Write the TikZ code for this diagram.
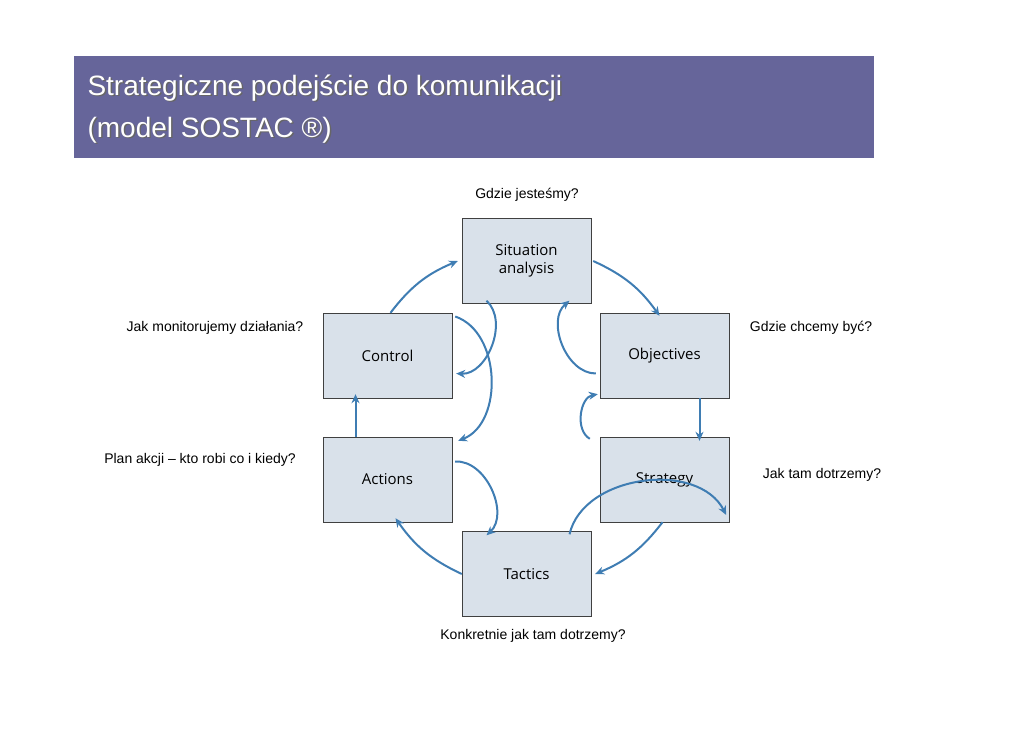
\documentclass[tikz,border=0pt]{standalone}
\usepackage{fontspec}
\setmainfont{Liberation Sans}
\newfontfamily\boxfont{Open Sans}
\usetikzlibrary{arrows.meta}
\definecolor{titlebg}{HTML}{66659A}
\definecolor{boxbg}{HTML}{D9E1EA}
\definecolor{arrowc}{HTML}{3F7DB3}
\begin{document}
\begin{tikzpicture}[x=1pt, y=-1pt,
    stage/.style = {draw=black!75, fill=boxbg, minimum width=129pt, minimum height=85pt, align=center, font=\boxfont\fontsize{15}{18}\selectfont},
    question/.style = {font=\fontsize{14}{16}\selectfont},
    flow/.style = {-{Stealth[length=9pt,width=8pt]}, arrowc, line width=2pt}]
    \useasboundingbox (0,0) rectangle (1030,728);
    % title bar
    \fill[titlebg] (74,56) rectangle (874,158);
    \node[anchor=west, align=left, text=black!60, font=\fontsize{28}{42}\selectfont] at (85.5,110.5) {Strategiczne podejście do komunikacji\\(model SOSTAC ®)};
    \node[anchor=west, align=left, text=white, font=\fontsize{28}{42}\selectfont] (title) at (84,109) {Strategiczne podejście do komunikacji\\(model SOSTAC ®)};

    \node[stage] (sit) at (526.5,261) {Situation\\analysis};
    \node[stage] (ctl) at (387.5,355.5) {Control};
    \node[stage] (obj) at (664.5,355.5) {Objectives};
    \node[stage] (act) at (387.5,479.5) {Actions};
    \node[stage] (str) at (664.5,479.5) {Strategy};
    \node[stage] (tac) at (526.5,574) {Tactics};

    \node[question] (q1) at (527,195) {Gdzie jesteśmy?};
    \node[question] (q2) at (215,328) {Jak monitorujemy działania?};
    \node[question] (q3) at (811,328) {Gdzie chcemy być?};
    \node[question] (q4) at (200,460) {Plan akcji – kto robi co i kiedy?};
    \node[question] (q5) at (822,475) {Jak tam dotrzemy?};
    \node[question] (q6) at (533,636) {Konkretnie jak tam dotrzemy?};

    % outer cycle
    \draw[flow] (ctl.north) ++(3,0) to[bend left=15] ([xshift=-4pt]sit.west);
    \draw[flow] (sit.east) ++(2,0) to[bend left=15] ([xshift=-5pt,yshift=-3pt]obj.north);
    \draw[flow] ([xshift=35pt]obj.south) -- ([xshift=35pt,yshift=-4pt]str.north);
    \draw[flow] ([xshift=-2pt]str.south) to[bend left=15] ([xshift=4pt]tac.east);
    \draw[flow] (tac.west) to[bend left=15] ([xshift=8pt,yshift=4pt]act.south);
    \draw[flow] ([xshift=-32pt]act.north) -- ([xshift=-32pt,yshift=4pt]ctl.south);

    % feedback loops
    \draw[flow] ([xshift=-40pt,yshift=3pt]sit.south) to[bend left=70] ([xshift=4pt,yshift=-18pt]ctl.east);
    \draw[flow] ([xshift=-4pt,yshift=-18pt]obj.west) to[bend left=70] ([xshift=43pt,yshift=3pt]sit.south);
    \draw[flow] ([xshift=3pt,yshift=39pt]ctl.east) to[bend left=70] ([xshift=6pt,yshift=-4pt]act.north east);
    \draw[flow] ([xshift=-10pt,yshift=-2pt]str.north west) to[bend left=70] ([xshift=-2pt,yshift=4pt]obj.south west);
    \draw[flow] ([xshift=3pt,yshift=18pt]act.east) to[bend left=70] ([xshift=-40pt,yshift=-4pt]tac.north);
    \draw[flow] ([xshift=43pt,yshift=-3pt]tac.north) to[bend left=70] ([xshift=-3pt,yshift=-18pt]str.east |- 0,497);
\end{tikzpicture}
\end{document}
